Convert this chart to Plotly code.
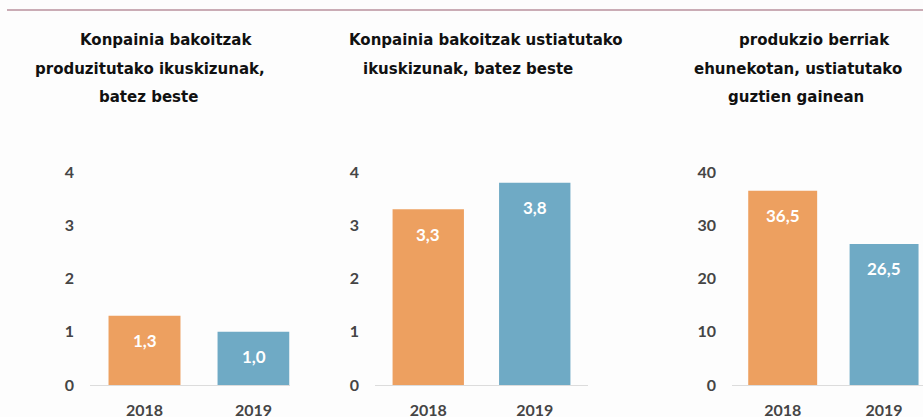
import plotly.graph_objects as go

W, H = 923, 417

categories = ["2018", "2019"]
values_p1 = [1.3, 1.0]
values_p2 = [3.3, 3.8]
values_p3 = [36.5, 26.5]
yticks_p12 = [0, 1, 2, 3, 4]
yticks_p3 = [0, 10, 20, 30, 40]

title_p1 = ["Konpainia bakoitzak", "produzitutako ikuskizunak,", "batez beste"]
title_p2 = ["Konpainia bakoitzak ustiatutako", "ikuskizunak, batez beste"]
title_p3 = ["produkzio berriak", "ehunekotan, ustiatutako", "guztien gainean"]

colors = ["#EDA060", "#6FAAC5"]

def px_x(p):
    return p / W

def px_y(p):
    return 1 - p / H

def fmt(v):
    return f"{v:.1f}".replace(".", ",")

fig = go.Figure()

panels = [
    dict(vals=values_p1, ticks=yticks_p12, rng=[0, 4], xdom=(90, 289.5), xr=[-0.5, 1.33], bw=0.66),
    dict(vals=values_p2, ticks=yticks_p12, rng=[0, 4], xdom=(375, 588), xr=[-0.5, 1.5], bw=0.67),
    dict(vals=values_p3, ticks=yticks_p3, rng=[0, 40], xdom=(732, 923), xr=[-0.5, 1.384], bw=0.68),
]

ydom = [px_y(385), px_y(172)]
tickfont = dict(family="Lato, 'Open Sans', sans-serif", size=16, color="#454545", weight="bold")

annotations = []
for i, p in enumerate(panels):
    n = "" if i == 0 else str(i + 1)
    fig.add_trace(go.Bar(
        x=categories, y=p["vals"], marker=dict(color=colors, line=dict(width=0)),
        width=p["bw"], xaxis="x" + n, yaxis="y" + n, showlegend=False, hoverinfo="skip",
    ))
    fig.update_layout({
        "xaxis" + n: dict(domain=[px_x(p["xdom"][0]), px_x(p["xdom"][1])], anchor="y" + n,
                          type="category", range=p["xr"], showline=True, linecolor="#dcdcdc",
                          linewidth=1, showgrid=False, zeroline=False, ticks="",
                          tickfont=tickfont, ticklabelstandoff=11, fixedrange=True,
                          automargin=False),
        "yaxis" + n: dict(domain=ydom, anchor="x" + n, range=p["rng"], tickvals=p["ticks"],
                          showgrid=False, zeroline=False, showline=False, ticks="",
                          tickfont=tickfont, ticklabelstandoff=15, fixedrange=True,
                          automargin=False),
    })
    for j, v in enumerate(p["vals"]):
        annotations.append(dict(
            x=j, y=v, xref="x" + n, yref="y" + n, text=fmt(v), showarrow=False,
            yshift=-25, yanchor="middle",
            font=dict(family="Lato, 'Open Sans', sans-serif", size=17, color="white", weight="bold"),
        ))

title_font = dict(family="'DejaVu Sans', sans-serif", size=15, color="#111111", weight="bold")
title_pos = [
    (title_p1, [166, 149.5, 148], [40, 69, 97]),
    (title_p2, [486, 468], [40, 69]),
    (title_p3, [814, 797.5, 795.5], [40, 69, 97]),
]
for lines, xs, ys in title_pos:
    for t, xx, yy in zip(lines, xs, ys):
        annotations.append(dict(
            x=px_x(xx), y=px_y(yy), xref="paper", yref="paper", text=t, showarrow=False,
            xanchor="center", yanchor="middle", font=title_font,
        ))

fig.update_layout(
    width=W, height=H, margin=dict(l=0, r=0, t=0, b=0, pad=0, autoexpand=False),
    paper_bgcolor="#fdfdfd", plot_bgcolor="#fdfdfd",
    annotations=annotations,
    shapes=[dict(type="line", xref="paper", yref="paper", x0=px_x(7), x1=1,
                 y0=px_y(10), y1=px_y(10), line=dict(color="#b9909c", width=1.5))],
    bargap=0.3,
)

fig.write_html("out.html", config={"displayModeBar": False},
               post_script="document.body.style.margin='0';document.body.style.overflow='hidden';")
